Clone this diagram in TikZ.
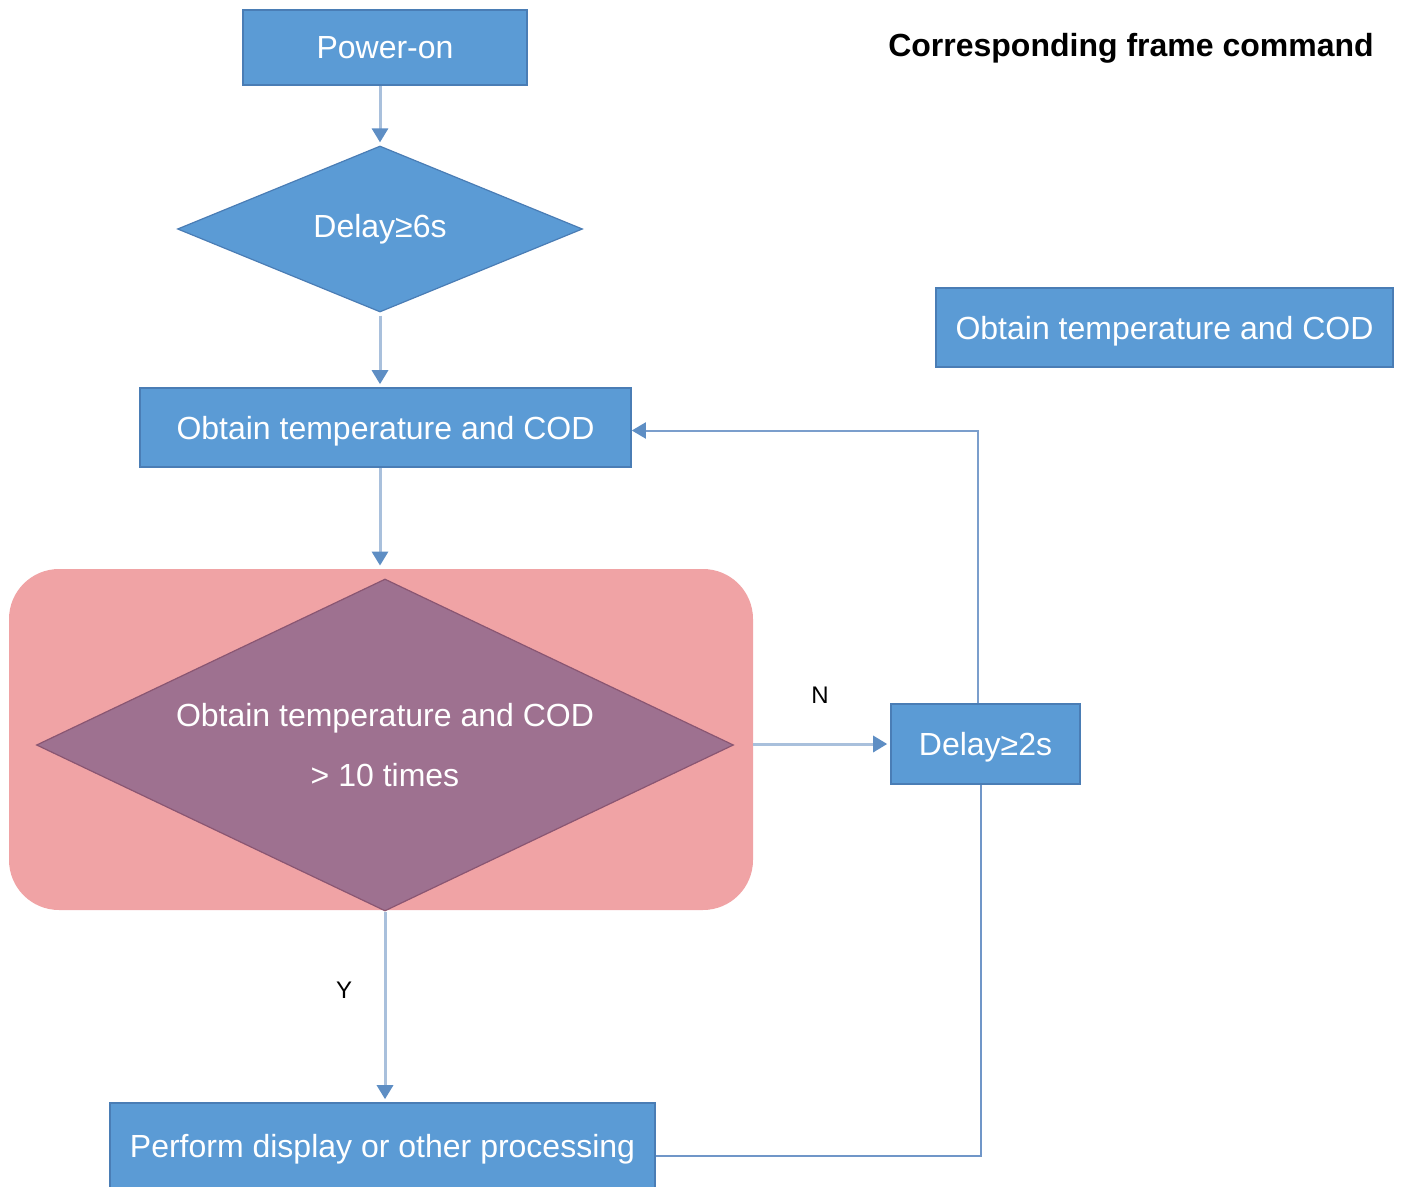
\documentclass[tikz,border=0pt]{standalone}
\usepackage{fontspec}
\setmainfont{Liberation Sans}
\usepackage{xcolor}
\usepackage{tikz}
\usetikzlibrary{arrows.meta, positioning, shapes.geometric}

\definecolor{boxblue}{HTML}{5B9BD5}
\definecolor{edgeblue}{HTML}{4A7DB5}
\definecolor{lineblue}{HTML}{A9C0DC}
\definecolor{tipblue}{HTML}{5E8EC4}
\definecolor{loopblue}{HTML}{7096C8}
\definecolor{pinkbg}{HTML}{F0A3A5}
\definecolor{plumfill}{HTML}{9E7190}
\definecolor{plumedge}{HTML}{8A5672}

\begin{document}
\begin{tikzpicture}[
    x=0.5pt, y=-0.5pt,
    bluebox/.style={
        rectangle,
        draw=edgeblue,
        fill=boxblue,
        line width=0.8pt,
        align=center,
        inner sep=0pt,
        text depth=0pt,
        font=\fontsize{16}{19}\selectfont,
        text=white
    },
    bluediamond/.style={
        diamond,
        draw=edgeblue,
        fill=boxblue,
        line width=0.6pt,
        inner sep=0pt,
        align=center,
        font=\fontsize{16}{19}\selectfont,
        text=white
    },
    checkdiamond/.style={
        diamond,
        draw=plumedge,
        fill=plumfill,
        line width=0.6pt,
        inner sep=0pt,
        align=center,
        font=\fontsize{16}{30}\selectfont,
        text=white
    },
    arrow/.style={
        -{Triangle[length=7pt, width=8pt, color=tipblue]},
        line width=1.5pt,
        draw=lineblue,
        shorten >=1.5pt
    },
    loopline/.style={
        line width=1pt,
        draw=loopblue
    },
    looparrow/.style={
        -{Triangle[length=7pt, width=8pt, color=tipblue]},
        line width=1pt,
        draw=loopblue!80!lineblue
    },
    branchlabel/.style={
        font=\fontsize{12}{14}\selectfont,
        text=black
    }
]
\useasboundingbox (0,0) rectangle (1402,1187);

% Highlight behind the check
\node[rectangle, rounded corners=25pt, fill=pinkbg, draw=none,
      minimum width=372pt, minimum height=170.5pt] (highlight) at (381,739.5) {};

% Main flow
\node[bluebox, minimum width=142pt, minimum height=37.5pt] (poweron) at (385,47.5) {Power-on};

\node[bluediamond, minimum width=202.5pt, minimum height=83pt, aspect=2.44] (delaysix) at (380,229) {Delay≥6s};

\node[bluebox, minimum width=245.5pt, minimum height=39.5pt] (obtain) at (385.5,427.5) {Obtain temperature and COD};

\node[checkdiamond, minimum width=348.5pt, minimum height=166pt, aspect=2.1] (check) at (385,745) {Obtain temperature and COD\\> 10 times};

\node[bluebox, minimum width=94.5pt, minimum height=40pt] (delaytwo) at (985.5,744) {Delay≥2s};

\node[bluebox, minimum width=272.5pt, minimum height=43pt] (perform) at (382.5,1146) {Perform display or other processing};

% Frame command side
\node[font=\bfseries\fontsize{16}{19}\selectfont, text=black] (title) at (1131,48) {Corresponding frame command};

\node[bluebox, minimum width=228.5pt, minimum height=39.5pt] (framecmd) at (1164.5,327.5) {Obtain temperature and COD};

% Arrows
\draw[arrow] (poweron.south -| delaysix.north) -- (delaysix.north);
\draw[arrow] ([yshift=-1.5pt]delaysix.south) -- (delaysix.south |- obtain.north);
\draw[arrow] (obtain.south -| delaysix.south) -- (highlight.north -| delaysix.south);
\draw[arrow] (highlight.east |- delaytwo.west) -- (delaytwo.west);
\draw[arrow] (check.south) -- (check.south |- perform.north);

% Loop back
\draw[looparrow] ([xshift=-4pt]delaytwo.north) |- ([yshift=-1.5pt]obtain.east);
\draw[loopline] ([yshift=-5pt]perform.east) -| ([xshift=-2.5pt]delaytwo.south);

% Branch labels
\node[branchlabel] (nlabel) at (820,695) {N};
\node[branchlabel] (ylabel) at (344,990) {Y};

\end{tikzpicture}
\end{document}
